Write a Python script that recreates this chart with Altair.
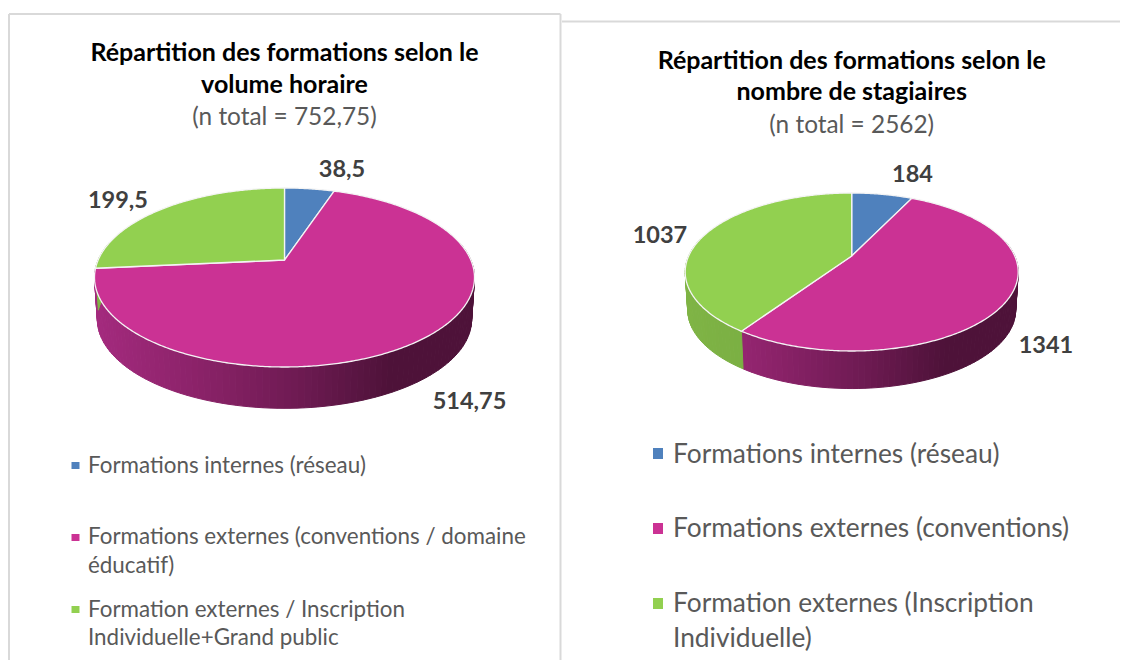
import math
import altair as alt

# ---- data
titles_a = ["Répartition des formations selon le", "volume horaire"]
subtitle_a = "(n total = 752,75)"
values_a = [38.5, 514.75, 199.5]
labels_a = ["38,5", "514,75", "199,5"]
legend_a = [["Formations internes (réseau)"],
            ["Formations externes (conventions / domaine", "éducatif)"],
            ["Formation externes / Inscription", "Individuelle+Grand public"]]

titles_b = ["Répartition des formations selon le", "nombre de stagiaires"]
subtitle_b = "(n total = 2562)"
values_b = [184, 1341, 1037]
labels_b = ["184", "1341", "1037"]
legend_b = [["Formations internes (réseau)"],
            ["Formations externes (conventions)"],
            ["Formation externes (Inscription", "Individuelle)"]]

colors = ["#4f81bd", "#cb3294", "#92d050"]
side_stops = [
    [(0.0, "#45709f"), (1.0, "#2c4a6d")],
    [(0.0, "#a42a7e"), (0.28, "#8a2268"), (0.55, "#6c1a51"), (0.78, "#4e1239"), (1.0, "#4e1239")],
    [(0.0, "#7fb445"), (1.0, "#66993a")],
]
FONT = "Lato"

# ---- layout of each pie, in page pixels
pie_a = dict(cx=284.5, left=94, right=474, top=188, bottom=367, apex=260, depth=42)
pie_b = dict(cx=851.7, left=685, right=1018, top=193, bottom=351, apex=256, depth=38)


def rgb(h):
    return [int(h[i:i + 2], 16) for i in (1, 3, 5)]


def grad(stops, f):
    f = max(0.0, min(1.0, f))
    for (f0, c0), (f1, c1) in zip(stops, stops[1:]):
        if f <= f1:
            t = (f - f0) / (f1 - f0)
            return "#%02x%02x%02x" % tuple(
                round(a + (b - a) * t) for a, b in zip(rgb(c0), rgb(c1)))
    return stops[-1][1]


def projector(p):
    top, bottom, apex = p["top"], p["bottom"], p["apex"]
    c = (apex - top - (bottom - apex)) / (bottom - top)
    a = bottom * (1 + c) - apex
    half = (p["right"] - p["left"]) / 2
    big = half * math.sqrt(1 - c * c)

    def proj(t, shrink=1.0, dy=0.0):
        u, v = math.sin(t), -math.cos(t)
        w = 1 + c * v
        return [p["cx"] + big * u * shrink / w, (a * v * shrink + apex) / w + dy]
    return proj


def feature(coords, fill, stroke, width, kind):
    ring = coords + [coords[0]]
    return {"type": "Feature",
            "geometry": {"type": "Polygon", "coordinates": [ring]},
            "properties": {"fill": fill, "stroke": stroke, "width": width, "kind": kind}}


def pie_features(values, p):
    proj = projector(p)
    total = sum(values)
    sides, tops, seams = [], [], []
    angle = 0.0
    for i, val in enumerate(values):
        sweep = val / total * 2 * math.pi
        n = max(4, int(sweep / 0.03))
        ts = [angle + sweep * k / n for k in range(n + 1)]
        apex_pt = [p["cx"], p["apex"]]
        top_ts = [angle + sweep * k / (n * 3) for k in range(n * 3 + 1)]
        tops.append(feature([apex_pt] + [proj(t) for t in top_ts], colors[i], "#f4f4f4", 1.3, "top"))
        for t0, t1 in zip(ts, ts[1:]):
            if -math.cos((t0 + t1) / 2) > -0.25:
                a0, a1 = proj(t0), proj(t1)
                b0, b1 = proj(t1, 0.985, p["depth"]), proj(t0, 0.985, p["depth"])
                f = ((a0[0] + a1[0]) / 2 - p["left"]) / (p["right"] - p["left"])
                col = grad(side_stops[i], f)
                sides.append(feature([a0, a1, b0, b1], col, col, 1.0, "side"))
        angle += sweep
        if -math.cos(angle) > 0.05:
            a0 = proj(angle)
            b0 = proj(angle, 0.985, p["depth"])
            seams.append(feature([[a0[0] - 0.6, a0[1]], [a0[0] + 0.6, a0[1]],
                                  [b0[0] + 0.6, b0[1]], [b0[0] - 0.6, b0[1]]],
                                 "#f0f0f0", "#f0f0f0", 0.2, "seam"))
    return sides + seams + tops


features = pie_features(values_a, pie_a) + pie_features(values_b, pie_b)

pies = alt.Chart(alt.Data(values=features)).mark_geoshape().encode(
    fill=alt.Fill("properties.fill:N", scale=None),
    stroke=alt.Stroke("properties.stroke:N", scale=None),
    strokeWidth=alt.StrokeWidth("properties.width:Q", scale=None),
    order=alt.Order("properties.kind:N", sort="ascending"),
).project(type="identity", scale=1, translate=[-8, -8])

# ---- text and frame placement
X = alt.Scale(domain=[8, 1120], nice=False, zero=False)
Y = alt.Scale(domain=[660, 8], nice=False, zero=False)
texts = []


def add(items, size, weight, color, anchor):
    for x, y, s in items:
        texts.append(dict(x=x, y=y, t=s, size=size, weight=weight, color=color, anchor=anchor))


add([(284.5, 61, titles_a[0]), (284.5, 93, titles_a[1]),
     (851.7, 69, titles_b[0]), (851.7, 100, titles_b[1])], 25, "bold", "#000000", "center")
add([(284.5, 125, subtitle_a), (851.7, 133, subtitle_b)], 24.4, "normal", "#595959", "center")
add([(342, 177, labels_a[0]), (469.5, 409, labels_a[1]), (118, 208, labels_a[2]),
     (912.5, 182, labels_b[0]), (1046, 353, labels_b[1]), (660, 243, labels_b[2])],
    23.5, "bold", "#404040", "center")
add([(88, 473, legend_a[0][0]), (88, 544, legend_a[1][0]), (88, 573, legend_a[1][1]),
     (88, 617, legend_a[2][0]), (88, 645, legend_a[2][1])], 22.4, "normal", "#595959", "left")
add([(673, 463, legend_b[0][0]), (673, 537, legend_b[1][0]),
     (673, 612, legend_b[2][0]), (673, 647, legend_b[2][1])], 26.3, "normal", "#595959", "left")


def text_layer(size, weight, color, anchor):
    rows = [r for r in texts if (r["size"], r["weight"], r["color"], r["anchor"]) == (size, weight, color, anchor)]
    return alt.Chart(alt.Data(values=rows)).mark_text(
        font=FONT, fontSize=size, fontWeight=weight, color=color, align=anchor, baseline="alphabetic"
    ).encode(x=alt.X("x:Q", scale=X, axis=None), y=alt.Y("y:Q", scale=Y, axis=None), text="t:N")


text_layers = [text_layer(*k) for k in sorted({(r["size"], r["weight"], r["color"], r["anchor"]) for r in texts})]

swatches = []
for (x0, x1, ys, half) in [(71.5, 79.5, (465.5, 537.5, 609.5), 3.5), (653, 663, (453.5, 528.5, 603.5), 5.5)]:
    for y, c in zip(ys, colors):
        swatches.append(dict(x=x0, x2=x1, y=y - half, y2=y + half, c=c))
swatch_layer = alt.Chart(alt.Data(values=swatches)).mark_rect().encode(
    x=alt.X("x:Q", scale=X, axis=None), x2="x2:Q",
    y=alt.Y("y:Q", scale=Y, axis=None), y2="y2:Q",
    color=alt.Color("c:N", scale=None),
)

frame = [
    dict(x=9, x2=9, y=14, y2=660), dict(x=9, x2=560.5, y=14, y2=14),
    dict(x=560.5, x2=560.5, y=14, y2=660), dict(x=562, x2=1120, y=21.5, y2=21.5),
]
frame_layer = alt.Chart(alt.Data(values=frame)).mark_rule(color="#d9d9d9", strokeWidth=2).encode(
    x=alt.X("x:Q", scale=X, axis=None), x2="x2:Q",
    y=alt.Y("y:Q", scale=Y, axis=None), y2="y2:Q",
)

chart = alt.layer(frame_layer, pies, swatch_layer, *text_layers).properties(
    width=1112, height=652, padding=0, autosize=alt.AutoSizeParams(type="none"),
    background="white",
).configure_view(stroke=None)

chart.save("out.html", embed_options={"renderer": "svg", "actions": False})
